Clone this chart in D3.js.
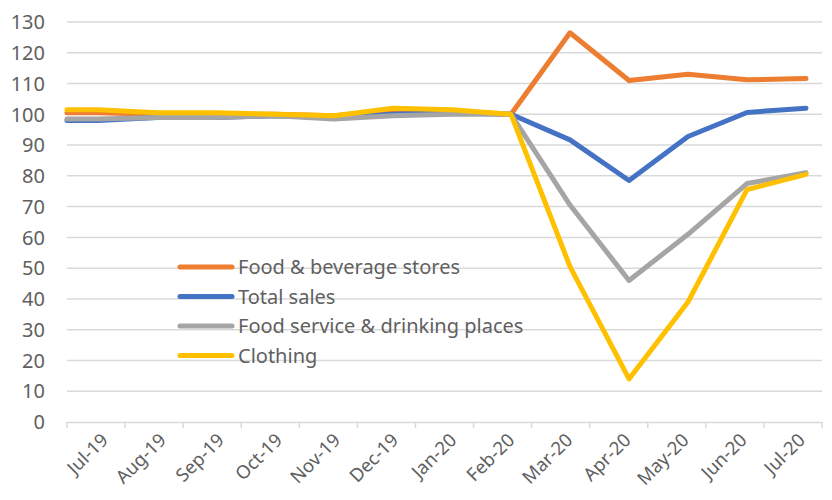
<!DOCTYPE html>
<html>
<head>
<meta charset="utf-8">
<script src="https://cdn.jsdelivr.net/npm/d3@7"></script>
<style>
  body { margin: 0; background: #fff; }
  text { font-family: "Noto Sans", Lato, sans-serif; fill: #606060; }
</style>
</head>
<body>
<svg id="chart"></svg>
<script>
// month labels on the x axis
var months = ["Jul-19","Aug-19","Sep-19","Oct-19","Nov-19","Dec-19","Jan-20",
              "Feb-20","Mar-20","Apr-20","May-20","Jun-20","Jul-20"];
var yTicks = [0,10,20,30,40,50,60,70,80,90,100,110,120,130];

// index values, Feb-20 = 100
var foodBeverage = [100.5,100,100,100,99.5,101,101,100,126.5,111,113,111.2,111.6];
var totalSales   = [98,99,99,99.5,99,100,100.5,100,91.7,78.5,92.8,100.6,102];
var foodService  = [98.5,99,99,99.5,98.5,99.5,100,100,70.5,46,61,77.5,81];
var clothing     = [101.5,100.5,100.5,100,99.5,102,101.5,100,50.5,14,39,75.5,80.5];

var series = [
  {name: "Food & beverage stores", values: foodBeverage, color: "#ED7D31"},
  {name: "Total sales", values: totalSales, color: "#4472C4"},
  {name: "Food service & drinking places", values: foodService, color: "#A5A5A5"},
  {name: "Clothing", values: clothing, color: "#FFC000"}
];

var width = 832, height = 500;
var margin = {top: 22, right: 10, bottom: 78, left: 67};

var svg = d3.select("#chart")
    .attr("width", width)
    .attr("height", height);

// category bands for ticks / labels
var xBand = d3.scaleBand()
    .domain(months)
    .range([margin.left, 822]);

// line points sit near band centres
var x = d3.scalePoint()
    .domain(months)
    .range([98, 806]);

var y = d3.scaleLinear()
    .domain([0, 130])
    .range([422, margin.top]);

// gridlines
svg.append("g")
    .selectAll("line")
    .data(yTicks.filter(function(d) { return d > 0; }))
    .enter()
    .append("line")
    .attr("x1", margin.left)
    .attr("x2", 822)
    .attr("y1", function(d) { return y(d); })
    .attr("y2", function(d) { return y(d); })
    .style("stroke", "#d9d9d9")
    .style("stroke-width", 1.5);

// y labels
svg.append("g")
    .selectAll("text")
    .data(yTicks)
    .enter()
    .append("text")
    .attr("x", 45)
    .attr("y", function(d) { return y(d); })
    .attr("dy", "0.36em")
    .attr("text-anchor", "end")
    .style("font-size", "20px")
    .text(function(d) { return d; });

// x axis
var xAxis = svg.append("g")
    .attr("transform", "translate(0," + y(0) + ")")
    .call(d3.axisBottom(xBand).tickSize(0).tickFormat(""));
xAxis.select(".domain").attr("stroke", "#d9d9d9").attr("stroke-width", 1.5);

var tickPos = months.map(function(m) { return xBand(m); }).concat([822]);
xAxis.selectAll(".tk")
    .data(tickPos)
    .enter()
    .append("line")
    .attr("x1", function(d) { return d; })
    .attr("x2", function(d) { return d; })
    .attr("y1", 0)
    .attr("y2", 6)
    .style("stroke", "#d9d9d9")
    .style("stroke-width", 1.5);

xAxis.selectAll(".lbl")
    .data(months)
    .enter()
    .append("text")
    .attr("transform", function(d) {
        return "translate(" + (xBand(d) + xBand.bandwidth() / 2 + 4) + ",10) rotate(-45)";
    })
    .attr("text-anchor", "end")
    .attr("dy", "0.7em")
    .style("font-size", "18.5px")
    .text(function(d) { return d; });

// lines (first segment runs back to the plot edge)
var line = d3.line()
    .x(function(d) { return d[0]; })
    .y(function(d) { return y(d[1]); });

svg.append("g")
    .selectAll("path")
    .data(series)
    .enter()
    .append("path")
    .attr("d", function(s) {
        var pts = [[margin.left, s.values[0]]].concat(s.values.map(function(v, i) {
            return [x(months[i]), v];
        }));
        return line(pts);
    })
    .style("fill", "none")
    .style("stroke", function(s) { return s.color; })
    .style("stroke-width", 5)
    .style("stroke-linejoin", "round")
    .style("stroke-linecap", "round");

// legend
var legend = svg.append("g")
    .selectAll("g")
    .data(series)
    .enter()
    .append("g")
    .attr("transform", function(d, i) { return "translate(180," + (267 + i * 29.5) + ")"; });

legend.append("line")
    .attr("x1", 0)
    .attr("x2", 52)
    .style("stroke", function(d) { return d.color; })
    .style("stroke-width", 5)
    .style("stroke-linecap", "round");

legend.append("text")
    .attr("x", 58)
    .attr("dy", "0.35em")
    .style("font-size", "20px")
    .text(function(d) { return d.name; });
</script>
</body>
</html>
